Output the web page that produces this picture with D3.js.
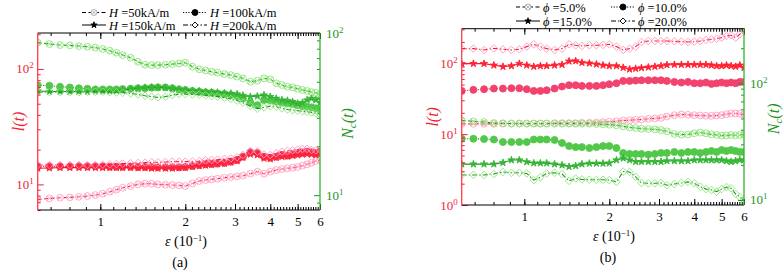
<!DOCTYPE html>
<html>
<head>
<meta charset="utf-8">
<script src="https://cdn.jsdelivr.net/npm/d3@7"></script>
<style>
body { margin: 0; background: #fff; }
</style>
</head>
<body>
<svg width="783" height="271" font-family="'Liberation Serif', 'Times New Roman', serif"></svg>
<script>
// strain axis, epsilon in units of 10^-1
var eps = [0.60,0.66,0.72,0.78,0.84,0.90,0.96,1.02,1.08,1.14,1.20,1.28,1.36,1.44,1.52,1.60,1.70,1.80,1.90,2.00,2.12,2.24,2.36,2.48,2.60,2.75,2.90,3.05,3.20,3.40,3.60,3.80,4.00,4.20,4.40,4.60,4.80,5.00,5.20,5.40,5.60,5.80,6.00];
var xTicks = [1, 2, 3, 4, 5, 6];

// panel (a) - field strength
var legendA = ["50kA/m", "100kA/m", "150kA/m", "200kA/m"];
var lA50  = [7.41,7.56,7.66,7.71,7.81,7.92,8.08,8.30,8.64,8.99,9.35,9.67,10.0,10.13,10.13,10.0,9.93,9.87,9.80,9.67,10.2,10.69,10.91,11.05,11.20,11.43,11.58,11.74,11.90,12.38,12.89,12.38,12.89,13.32,13.59,13.78,13.96,14.15,14.53,14.93,15.43,15.95,16.28];
var lA100 = [14.34,14.34,14.34,14.34,14.34,14.34,14.34,14.34,14.24,14.24,14.24,14.24,14.15,14.15,14.15,14.05,14.05,14.05,14.05,14.15,14.44,14.73,14.93,15.03,15.13,15.33,15.74,16.28,17.40,18.98,18.73,17.40,17.06,17.40,17.99,17.75,18.23,18.60,18.85,19.23,18.98,18.73,19.23];
var lA150 = [13.78,13.87,13.96,13.96,13.96,13.96,13.96,13.96,13.96,13.96,13.96,13.96,13.87,13.87,13.78,13.78,13.78,13.78,13.87,13.96,14.24,14.44,14.63,14.83,15.03,15.23,15.54,15.95,17.06,18.23,17.99,16.83,16.61,17.06,17.40,17.52,17.75,17.99,18.23,18.35,18.23,17.99,18.35];
var lA200 = [14.73,14.73,14.73,14.73,14.73,14.73,14.73,14.83,14.93,15.03,15.13,15.23,15.33,15.43,15.54,15.54,15.64,15.74,15.74,15.74,15.85,15.95,16.17,16.28,16.39,16.61,16.83,17.17,17.99,19.49,19.23,18.23,17.99,18.60,19.23,19.49,19.76,20.02,20.29,20.29,19.89,19.76,20.02];
var nA50  = [87.2,85.5,84.3,83.9,83.1,82.3,81.2,79.7,77.8,75.6,73.1,70.4,66.5,63.7,63.4,63.4,63.7,64.3,64.9,65.6,62.0,59.7,58.8,57.7,56.9,55.8,55.0,53.8,52.5,50.1,50.8,52.5,51.8,48.9,47.8,46.6,46.2,45.3,44.5,43.9,43.2,42.8,41.4];
var nA100 = [47.7,47.3,46.6,46.2,45.6,45.3,44.9,44.9,44.9,44.9,45.1,45.3,45.6,45.7,46.0,46.2,46.2,45.6,44.9,44.5,43.9,43.4,43.0,42.8,42.4,42.0,41.4,40.8,39.5,37.2,35.9,38.6,38.3,37.7,37.2,36.8,36.5,35.9,35.4,35.1,34.8,34.3,33.5];
var nA150 = [43.9,43.6,43.6,43.6,43.6,43.6,43.9,43.9,43.9,44.1,44.5,45.1,45.6,46.0,46.2,46.2,46.0,45.6,44.9,44.5,44.1,43.9,43.4,43.2,43.0,42.6,42.4,42.0,41.2,40.5,40.8,41.4,40.5,39.5,38.6,38.3,37.7,36.8,37.2,38.6,39.5,38.6,37.2];
var nA200 = [43.2,43.2,43.2,43.2,43.2,43.4,43.4,43.4,43.2,43.0,42.8,42.4,41.8,41.0,40.5,40.1,40.5,41.4,42.0,42.0,41.8,41.6,41.2,40.8,40.5,39.9,39.2,38.3,37.2,35.4,34.1,34.8,35.4,35.1,34.3,33.8,33.5,33.2,32.9,32.7,32.4,31.9,31.6];

// panel (b) - volume fraction
var legendB = ["5.0%", "10.0%", "15.0%", "20.0%"];
var lB5  = [13.96,13.96,13.96,13.96,14.12,14.12,14.12,14.12,14.12,14.12,14.12,14.27,14.27,14.27,14.27,14.43,14.43,14.58,14.74,14.90,15.22,15.56,15.73,15.90,16.07,16.42,16.60,16.96,17.71,18.50,18.90,18.70,18.50,18.30,18.11,18.11,18.30,18.50,19.11,19.52,19.52,19.31,18.90];
var lB10 = [40.7,42.1,43.0,43.9,43.9,44.4,44.4,43.0,40.7,40.7,41.6,43.9,46.9,49.0,49.0,47.9,47.9,47.9,49.0,50.6,52.2,56.3,56.3,56.9,57.5,57.5,57.5,57.5,56.3,54.5,53.4,54.5,52.2,52.2,53.4,51.1,52.2,53.4,52.2,53.4,52.2,54.5,54.5];
var lB15 = [98.8,98.8,98.8,93.6,89.7,91.6,98.8,93.6,89.7,91.6,91.6,93.6,95.6,106.6,107.7,102.1,99.9,96.7,93.6,91.6,91.6,86.8,82.2,84.0,85.9,87.7,89.7,91.6,94.6,95.6,95.6,95.6,95.6,95.6,95.6,93.6,91.6,91.6,93.6,91.6,89.7,93.6,86.8];
var lB20 = [160.7,160.7,153.9,162.4,157.3,153.9,157.3,171.5,184.9,171.5,160.7,153.9,160.7,184.9,179.1,175.3,179.1,179.1,181.0,184.9,171.5,153.9,160.7,171.5,199.5,206.1,206.1,206.1,206.1,203.9,201.7,199.5,201.7,206.1,212.9,217.5,222.3,229.6,242.4,247.7,229.6,255.9,285.1];
var nB5  = [48.2,47.2,46.6,45.7,45.4,45.1,45.1,45.1,45.1,45.1,45.1,45.1,45.1,45.1,45.1,45.1,45.1,44.8,44.5,44.2,43.6,42.8,41.9,41.4,40.8,40.6,40.3,39.8,38.8,36.8,36.3,36.5,37.3,37.8,37.3,36.5,36.1,35.6,35.8,36.1,35.8,36.1,36.3];
var nB10 = [33.5,33.5,33.3,33.0,31.4,31.4,31.4,31.4,33.0,33.0,33.0,32.7,30.8,29.0,28.4,28.4,27.9,28.4,29.0,29.0,27.9,25.3,24.8,24.8,24.8,24.5,24.8,25.3,25.3,25.8,25.3,25.8,25.8,25.3,25.8,26.3,25.8,26.8,26.3,26.8,26.3,25.8,25.8];
var nB15 = [20.3,20.3,20.3,20.3,20.9,22.0,22.0,21.2,20.7,20.7,20.7,20.3,19.9,19.3,19.6,20.3,20.6,20.6,20.6,20.7,22.0,22.8,22.0,21.3,21.3,21.3,21.3,21.3,21.6,21.6,21.6,21.6,22.0,22.0,22.0,22.0,22.0,22.0,21.6,21.3,21.6,22.0,22.0];
var nB20 = [16.4,16.4,16.4,16.7,17.4,17.1,17.1,16.9,14.8,15.7,16.9,17.1,16.7,14.6,15.3,15.0,14.9,14.9,14.9,14.8,14.3,17.5,17.4,15.8,14.0,13.9,13.9,14.0,13.4,13.7,14.0,14.3,13.9,13.0,12.4,12.2,11.8,12.4,12.9,12.6,11.3,10.6,10.0];

var FONT = "'Liberation Serif', 'Times New Roman', serif";
var svg = d3.select("svg");

var RED = "#f21c36", GREEN = "#1d951d";
// line style + marker for the four series of each panel
var kinds = [
    { dash: "4,2.5", mark: "xcircle" },
    { dash: "1.2,1.5", mark: "circle" },
    { dash: null, mark: "star" },
    { dash: "5,2,1.5,2", mark: "diamond" }
];
var redMarks = [
    { stroke: "#ffa3c2", fill: "none" },
    { stroke: "#f2426e", fill: "#f2426e" },
    { stroke: "#ff2233", fill: "#ff2233" },
    { stroke: "#ff98bd", fill: "none" }
];
var greenMarks = [
    { stroke: "#8fe47b", fill: "none" },
    { stroke: "#52c84a", fill: "#52c84a" },
    { stroke: "#36b636", fill: "#36b636" },
    { stroke: "#8ee47c", fill: "none" }
];

function markerPath(kind, r) {
    if (kind == "circle") return d3.symbol(d3.symbolCircle, Math.PI * r * r)();
    if (kind == "star") return d3.symbol(d3.symbolStar, r * r * 0.75)();
    if (kind == "diamond") return "M0," + (-r) + "L" + r + ",0L0," + r + "L" + (-r) + ",0Z";
    var a = r * 0.7;
    return "M" + (-r) + ",0A" + r + "," + r + " 0 1,0 " + r + ",0A" + r + "," + r + " 0 1,0 " + (-r) + ",0" +
        "M" + (-a) + "," + (-a) + "L" + a + "," + a + "M" + (-a) + "," + a + "L" + a + "," + (-a);
}
var markR = { xcircle: 3.4, circle: 3.5, star: 4.6, diamond: 3.8 };

function logTicks(dom) {
    var out = [];
    for (var k = -1; k < 4; k++)
        for (var m = 1; m < 10; m++) {
            var v = m * Math.pow(10, k);
            if (v >= dom[0] * 0.999 && v <= dom[1] * 1.001) out.push(v);
        }
    return out;
}

function powLabel(g, x, y, exp, color, anchor) {
    var t = g.append("text").attr("x", x).attr("y", y).attr("font-family", FONT)
        .attr("fill", color).attr("font-size", 13).attr("text-anchor", anchor);
    t.append("tspan").text("10");
    t.append("tspan").attr("dy", -5).attr("font-size", 9).text(exp);
}

function drawPanel(p) {
    var x = d3.scaleLog().domain([0.6, 6]).range([p.left, p.right]);
    var yL = d3.scaleLog().domain(p.lDom).range([p.bottom, p.top]);
    var yR = d3.scaleLog().domain(p.rDom).range([p.bottom, p.top]);
    var g = svg.append("g");

    var clipId = "clip" + p.name;
    g.append("clipPath").attr("id", clipId).append("rect")
        .attr("x", p.left).attr("y", p.top)
        .attr("width", p.right - p.left).attr("height", p.bottom - p.top);
    var plot = g.append("g").attr("clip-path", "url(#" + clipId + ")");

    function series(vals, y, i, line, marks) {
        var pts = eps.map(function (e, j) { return [x(e), y(vals[j])]; });
        plot.append("path")
            .attr("d", d3.line()(pts))
            .attr("fill", "none")
            .attr("stroke", line)
            .attr("stroke-width", 1.1)
            .attr("stroke-dasharray", kinds[i].dash);
        var mp = markerPath(kinds[i].mark, markR[kinds[i].mark]);
        plot.selectAll(null).data(pts).enter().append("path")
            .attr("d", mp)
            .attr("transform", function (d) { return "translate(" + d[0] + "," + d[1] + ")"; })
            .attr("fill", marks[i].fill)
            .attr("stroke", marks[i].stroke)
            .attr("stroke-width", 0.9);
    }
    p.red.forEach(function (s, i) { series(s, yL, i, RED, redMarks); });
    p.green.forEach(function (s, i) { series(s, yR, i, GREEN, greenMarks); });

    // x ticks (inward), minor every 1/9
    var minorX = d3.range(6, 55).map(function (k) { return k / 9; });
    g.append("g").attr("transform", "translate(0," + p.bottom + ")")
        .call(d3.axisBottom(x).tickValues(minorX).tickSize(-3).tickFormat(""));
    g.append("g").attr("transform", "translate(0," + p.top + ")")
        .call(d3.axisTop(x).tickValues(minorX).tickSize(-3).tickFormat(""));
    g.append("g").attr("transform", "translate(0," + p.top + ")")
        .call(d3.axisTop(x).tickValues(xTicks).tickSize(-6).tickFormat(""));
    var xa = g.append("g").attr("transform", "translate(0," + p.bottom + ")")
        .call(d3.axisBottom(x).tickValues(xTicks).tickSize(-6).tickPadding(7).tickFormat(d3.format("d")));
    xa.attr("font-family", FONT).attr("font-size", 13);
    xa.selectAll("text").attr("fill", "#000");
    g.selectAll(".domain").remove();

    // y ticks
    var lt = logTicks(p.lDom), rt = logTicks(p.rDom);
    function isMajor(v) { return Math.abs(Math.log10(v) - Math.round(Math.log10(v))) < 1e-6; }
    var la = g.append("g").attr("transform", "translate(" + p.left + ",0)")
        .call(d3.axisLeft(yL).tickValues(lt.filter(function (v) { return !isMajor(v); })).tickSize(-3).tickFormat(""));
    var la2 = g.append("g").attr("transform", "translate(" + p.left + ",0)")
        .call(d3.axisLeft(yL).tickValues(lt.filter(isMajor)).tickSize(-6).tickFormat(""));
    var ra = g.append("g").attr("transform", "translate(" + p.right + ",0)")
        .call(d3.axisRight(yR).tickValues(rt.filter(function (v) { return !isMajor(v); })).tickSize(-3).tickFormat(""));
    var ra2 = g.append("g").attr("transform", "translate(" + p.right + ",0)")
        .call(d3.axisRight(yR).tickValues(rt.filter(isMajor)).tickSize(-6).tickFormat(""));
    la.selectAll("line").attr("stroke", RED); la2.selectAll("line").attr("stroke", RED);
    ra.selectAll("line").attr("stroke", GREEN); ra2.selectAll("line").attr("stroke", GREEN);
    g.selectAll(".domain").remove();

    // frame
    g.append("line").attr("x1", p.left).attr("x2", p.right).attr("y1", p.top).attr("y2", p.top).attr("stroke", "#000");
    g.append("line").attr("x1", p.left).attr("x2", p.right).attr("y1", p.bottom).attr("y2", p.bottom).attr("stroke", "#000");
    g.append("line").attr("x1", p.left).attr("x2", p.left).attr("y1", p.top).attr("y2", p.bottom).attr("stroke", "#ff3b4e").attr("stroke-width", 1.3);
    g.append("line").attr("x1", p.right).attr("x2", p.right).attr("y1", p.top).attr("y2", p.bottom).attr("stroke", "#2fb52f").attr("stroke-width", 1.3);

    // y tick labels
    lt.filter(isMajor).forEach(function (v) {
        powLabel(g, p.left - 4, yL(v) + 4.5, String(Math.round(Math.log10(v))), RED, "end");
    });
    rt.filter(isMajor).forEach(function (v) {
        powLabel(g, p.right + 6, yR(v) + 4.5, String(Math.round(Math.log10(v))), GREEN, "start");
    });

    // axis titles
    var tl = g.append("text").attr("transform", "translate(" + p.lLab + "," + ((p.top + p.bottom) / 2) + ") rotate(-90)")
        .attr("font-family", FONT).attr("text-anchor", "middle").attr("fill", RED).attr("font-size", 16).attr("font-style", "italic");
    tl.append("tspan").text("l(t)");
    var tr = g.append("text").attr("transform", "translate(" + p.rLab + "," + ((p.top + p.bottom) / 2 + 2) + ") rotate(-90)")
        .attr("font-family", FONT).attr("text-anchor", "middle").attr("fill", GREEN).attr("font-size", 16).attr("font-style", "italic");
    tr.append("tspan").text("N");
    tr.append("tspan").attr("dy", 3).attr("font-size", 11).text("c");
    tr.append("tspan").attr("dy", -3).text("(t)");

    var tx = g.append("text").attr("x", p.xLab).attr("y", p.bottom + 36)
        .attr("font-family", FONT).attr("text-anchor", "middle").attr("font-size", 14);
    tx.append("tspan").attr("font-style", "italic").text("\u03b5");
    tx.append("tspan").text(" (10");
    tx.append("tspan").attr("dy", -5).attr("font-size", 9).text("\u22121");
    tx.append("tspan").attr("dy", 5).text(")");

    g.append("text").attr("x", p.xLab - 6).attr("y", p.bottom + 57).attr("font-family", FONT)
        .attr("text-anchor", "middle").attr("font-size", 14).text(p.tag);

    // legend
    p.legend.forEach(function (lab, i) {
        var col = i % 2, row = Math.floor(i / 2);
        var lx = p.legX[col], ly = p.legY[row];
        g.append("line").attr("x1", lx).attr("x2", lx + 24).attr("y1", ly).attr("y2", ly)
            .attr("stroke", "#000").attr("stroke-width", 1).attr("stroke-dasharray", kinds[i].dash);
        var k = kinds[i].mark;
        g.append("path").attr("d", markerPath(k, k == "star" ? 4 : 3))
            .attr("transform", "translate(" + (lx + 12) + "," + ly + ")")
            .attr("fill", k == "circle" || k == "star" ? "#000" : "#fff")
            .attr("stroke", i == 0 ? "#aaa" : "#000").attr("stroke-width", 0.9);
        var t = g.append("text").attr("x", lx + 27).attr("y", ly + 4.5)
            .attr("font-family", FONT).attr("font-size", 12.5);
        t.append("tspan").attr("font-style", "italic").text(p.sym);
        t.append("tspan").text(" =" + lab);
    });
}

drawPanel({
    name: "a", left: 37.7, right: 320, top: 33, bottom: 210,
    lDom: [6, 205], rDom: [8.1, 100],
    red: [lA50, lA100, lA150, lA200], green: [nA50, nA100, nA150, nA200],
    lLab: 24, rLab: 353, xLab: 186, tag: "(a)",
    legend: legendA, sym: "H", legX: [82, 183], legY: [12.5, 25]
});
drawPanel({
    name: "b", left: 461.7, right: 744, top: 28.7, bottom: 205,
    lDom: [1, 307], rDom: [9.06, 294],
    red: [lB5, lB10, lB15, lB20], green: [nB5, nB10, nB15, nB20],
    lLab: 438, rLab: 779, xLab: 614, tag: "(b)",
    legend: legendB, sym: "\u03d5", legX: [516, 611], legY: [7, 21]
});
</script>
</body>
</html>
